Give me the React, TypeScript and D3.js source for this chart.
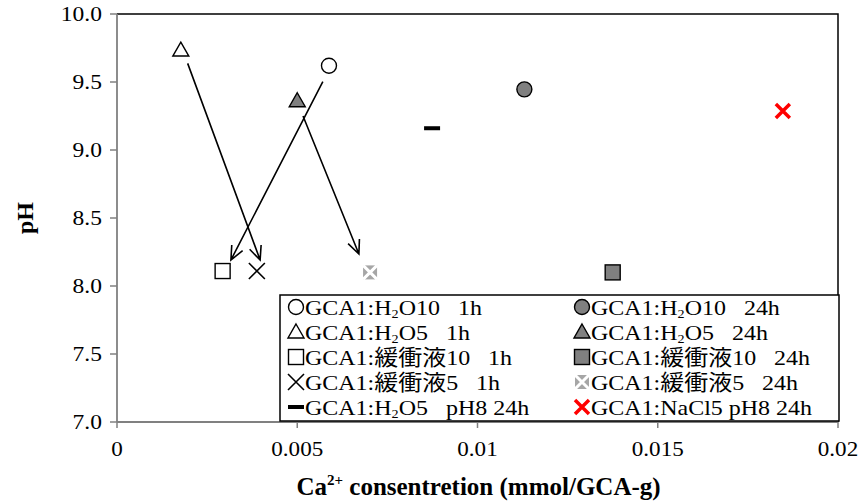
import React from 'react';
import * as d3 from 'd3';

// x = Ca2+ concentration (mmol/GCA-g), y = pH, one point per series
const concX = [0.00588, 0.00177, 0.00293, 0.00388, 0.0113, 0.0050, 0.01375, 0.00702, 0.00874, 0.01847];
const phY = [9.62, 9.735, 8.11, 8.11, 9.446, 9.362, 8.10, 8.10, 9.16, 9.287];

// arrows drawn between states (data units): [x1, y1, x2, y2]
const arrows = [
  [0.00196, 9.637, 0.00397, 8.191],
  [0.00571, 9.502, 0.00316, 8.191],
  [0.00516, 9.25, 0.00671, 8.235],
];

const xTicks = [0, 0.005, 0.01, 0.015, 0.02];
const xTickLabels = ['0', '0.005', '0.01', '0.015', '0.02'];
const yTicks = [7, 7.5, 8, 8.5, 9, 9.5, 10];

// legend order: left column then right column
const legendLeft = [0, 1, 2, 3, 8];
const legendRight = [4, 5, 6, 7, 9];
// [text before subscript 2, text after] (null = no subscript)
const legendText = [
  ['GCA1:H', 'O10   1h'],
  ['GCA1:H', 'O5   1h'],
  ['GCA1:緩衝液10   1h', null],
  ['GCA1:緩衝液5   1h', null],
  ['GCA1:H', 'O10   24h'],
  ['GCA1:H', 'O5   24h'],
  ['GCA1:緩衝液10   24h', null],
  ['GCA1:緩衝液5   24h', null],
  ['GCA1:H', 'O5   pH8 24h'],
  ['GCA1:NaCl5 pH8 24h', null],
];

const FONT = 'Liberation Serif, Tinos, Times New Roman, Noto Sans CJK JP, serif';
const GRAY = '#808080';

function Marker({ i, cx, cy }: { i: number; cx: number; cy: number }) {
  const s = 8;
  switch (i) {
    case 0:
      return <circle cx={cx} cy={cy} r={7.5} fill="#fff" stroke="#000" strokeWidth={1.4} />;
    case 4:
      return <circle cx={cx} cy={cy} r={7.5} fill={GRAY} stroke="#000" strokeWidth={1.4} />;
    case 1:
    case 5:
      return (
        <path
          d={`M${cx},${cy - 8} L${cx + 8},${cy + 6} L${cx - 8},${cy + 6} Z`}
          fill={i === 1 ? '#fff' : GRAY}
          stroke="#000"
          strokeWidth={1.4}
        />
      );
    case 2:
    case 6:
      return (
        <rect x={cx - 7.5} y={cy - 7.5} width={15} height={15}
          fill={i === 2 ? '#fff' : GRAY} stroke="#000" strokeWidth={1.4} />
      );
    case 3:
      return (
        <path d={`M${cx - s},${cy - s} L${cx + s},${cy + s} M${cx + s},${cy - s} L${cx - s},${cy + s}`}
          stroke="#000" strokeWidth={1.6} fill="none" />
      );
    case 7:
      return (
        <g>
          <rect x={cx - 7} y={cy - 7} width={14} height={14} fill="#a6a6a6" />
          <path d={`M${cx - 7},${cy - 7} L${cx + 7},${cy + 7} M${cx + 7},${cy - 7} L${cx - 7},${cy + 7}`}
            stroke="#fff" strokeWidth={3} fill="none" />
        </g>
      );
    case 8:
      return <rect x={cx - 8} y={cy - 2} width={16} height={4} fill="#000" />;
    case 9:
      return (
        <path d={`M${cx - 7},${cy - 7} L${cx + 7},${cy + 7} M${cx + 7},${cy - 7} L${cx - 7},${cy + 7}`}
          stroke="#ff0000" strokeWidth={3.5} fill="none" />
      );
    default:
      return null;
  }
}

function LegendLabel({ i, x, y }: { i: number; x: number; y: number }) {
  const [a, b] = legendText[i];
  return (
    <text transform={`translate(${x},${y}) scale(1.09,1)`} fontSize={22} fill="#000"
      style={{ whiteSpace: 'pre', fontFamily: FONT }}>
      {a}
      {b !== null && (
        <>
          <tspan fontSize={13} dy={3}>2</tspan>
          <tspan dy={-3}>{b}</tspan>
        </>
      )}
    </text>
  );
}

export default function App() {
  const W = 864;
  const H = 504;
  const x = d3.scaleLinear().domain([0, 0.02]).range([117, 838]);
  const y = d3.scaleLinear().domain([7, 10]).range([422, 14]);
  const [x0, x1] = x.range();
  const [y0, y1] = y.range();

  const arrowPath = (a: number[]) => {
    const px1 = x(a[0]), py1 = y(a[1]), px2 = x(a[2]), py2 = y(a[3]);
    const ang = Math.atan2(py2 - py1, px2 - px1);
    const L = 15, spread = 0.42;
    const hx1 = px2 - L * Math.cos(ang - spread), hy1 = py2 - L * Math.sin(ang - spread);
    const hx2 = px2 - L * Math.cos(ang + spread), hy2 = py2 - L * Math.sin(ang + spread);
    return `M${px1},${py1} L${px2},${py2} M${hx1},${hy1} L${px2},${py2} L${hx2},${hy2}`;
  };

  const legendRows = [307, 332, 357, 382, 407];

  return (
    <svg width={W} height={H} style={{ position: 'absolute', left: 0, top: 0, background: '#fff' }}>
      {/* plot area border: top and right */}
      <path d={`M${x0},${y1} L${x1},${y1} L${x1},${y0}`} fill="none" stroke="#000" strokeWidth={1.5} />

      {/* axes */}
      <line x1={x0} x2={x1} y1={y0} y2={y0} stroke={GRAY} strokeWidth={1.8} />
      <line x1={x0} x2={x0} y1={y0} y2={y1} stroke={GRAY} strokeWidth={1.8} />
      {xTicks.map((t, k) => (
        <g key={'xt' + k}>
          <line x1={x(t)} x2={x(t)} y1={y0} y2={y0 + 6} stroke={GRAY} strokeWidth={1.5} />
          <text transform={`translate(${x(t)},${y0 + 34}) scale(1.1,1)`} textAnchor="middle"
            fontSize={21} fill="#000" style={{ fontFamily: FONT }}>{xTickLabels[k]}</text>
        </g>
      ))}
      {yTicks.map((t, k) => (
        <g key={'yt' + k}>
          <line x1={x0 - 7} x2={x0} y1={y(t)} y2={y(t)} stroke={GRAY} strokeWidth={1.5} />
          <text transform={`translate(${x0 - 15},${y(t) + 7}) scale(1.12,1)`} textAnchor="end"
            fontSize={21} fill="#000" style={{ fontFamily: FONT }}>{t.toFixed(1)}</text>
        </g>
      ))}

      {/* axis titles */}
      <text transform={`translate(${(x0 + x1) / 2 + 1},495)`} textAnchor="middle"
        fontSize={25} fontWeight="bold" fill="#000" style={{ fontFamily: FONT }}>
        Ca<tspan fontSize={15} dy={-10}>2+</tspan><tspan dy={10}> consentretion (mmol/GCA-g)</tspan>
      </text>
      <text transform={`translate(33,${(y0 + y1) / 2}) rotate(-90)`} textAnchor="middle"
        fontSize={24} fontWeight="bold" fill="#000" style={{ fontFamily: FONT }}>pH</text>

      {/* arrows */}
      {arrows.map((a, k) => (
        <path key={'ar' + k} d={arrowPath(a)} fill="none" stroke="#000" strokeWidth={1.6} />
      ))}

      {/* points */}
      {concX.map((cx, i) => (
        <Marker key={'pt' + i} i={i} cx={x(cx)} cy={y(phY[i])} />
      ))}

      {/* legend */}
      <rect x={280} y={295} width={559} height={126} fill="#fff" stroke="#000" strokeWidth={1.5} />
      {legendLeft.map((i, r) => (
        <g key={'ll' + i}>
          <Marker i={i} cx={296} cy={legendRows[r]} />
          <LegendLabel i={i} x={305} y={legendRows[r] + 8} />
        </g>
      ))}
      {legendRight.map((i, r) => (
        <g key={'lr' + i}>
          <Marker i={i} cx={582} cy={legendRows[r]} />
          <LegendLabel i={i} x={591} y={legendRows[r] + 8} />
        </g>
      ))}
    </svg>
  );
}
